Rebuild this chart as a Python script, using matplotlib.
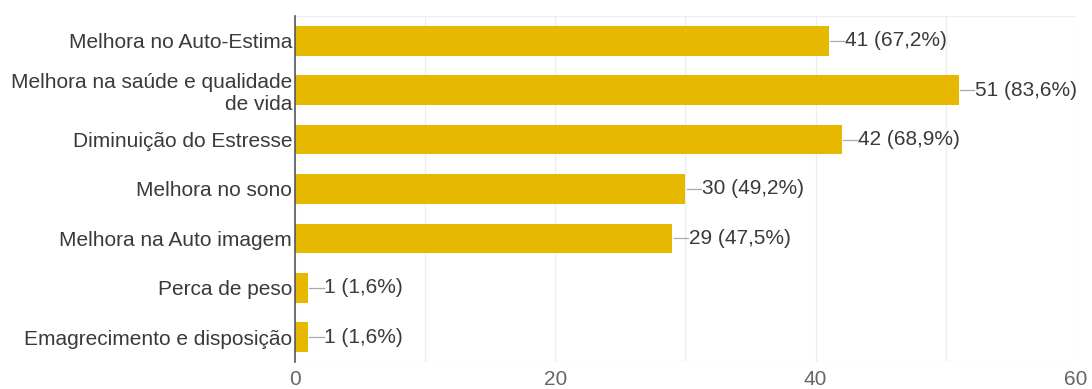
import matplotlib.pyplot as plt
from matplotlib.ticker import MultipleLocator

categorias = ["Melhora no Auto-Estima",
              "Melhora na saúde e qualidade\nde vida",
              "Diminuição do Estresse",
              "Melhora no sono",
              "Melhora na Auto imagem",
              "Perca de peso",
              "Emagrecimento e disposição"]
contagens = [41, 51, 42, 30, 29, 1, 1]
percentuais = ["67,2%", "83,6%", "68,9%", "49,2%", "47,5%", "1,6%", "1,6%"]
xticks = [0, 20, 40, 60]

plt.rcParams["font.family"] = ["Liberation Sans", "DejaVu Sans"]

fig = plt.figure(figsize=(10.92, 3.89), dpi=100)
ax = fig.add_axes([0.2701, 0.0694, 0.7152, 0.8895])

pos = list(range(len(categorias)))
ax.barh(pos, contagens, height=0.6, color="#E6B800", zorder=2)
ax.set_ylim(len(categorias) - 0.5, -0.5)
ax.set_xlim(0, 60)

# rótulos com linha guia curta
for y, v, p in zip(pos, contagens, percentuais):
    ax.plot([v + 0.1, v + 1.2], [y, y], color="#aaaaaa", lw=0.9, zorder=3)
    ax.text(v + 1.25, y, "{} ({})".format(v, p), va="center", ha="left",
            fontsize=15, color="#3a3a3a")

ax.set_yticks(pos)
ax.set_yticklabels(categorias, fontsize=15, color="#3a3a3a", linespacing=1.2)
ax.set_xticks(xticks)
ax.xaxis.set_minor_locator(MultipleLocator(10))
ax.tick_params(axis="both", length=0)
ax.tick_params(axis="x", which="minor", length=0)
ax.tick_params(axis="x", labelsize=15, labelcolor="#666666", pad=6)
ax.tick_params(axis="y", pad=2)

ax.grid(axis="x", which="both", color="#eeeeee", lw=0.9, zorder=0)
for s in ["top", "right", "bottom"]:
    ax.spines[s].set_visible(False)
ax.axhline(len(categorias) - 0.5, color="#eeeeee", lw=0.9, zorder=0)
ax.axhline(-0.5, color="#eeeeee", lw=0.9, zorder=0)
ax.spines["left"].set_color("#555566")
ax.spines["left"].set_linewidth(1.2)
ax.spines["left"].set_zorder(4)

fig.savefig("out.png", dpi=100)
